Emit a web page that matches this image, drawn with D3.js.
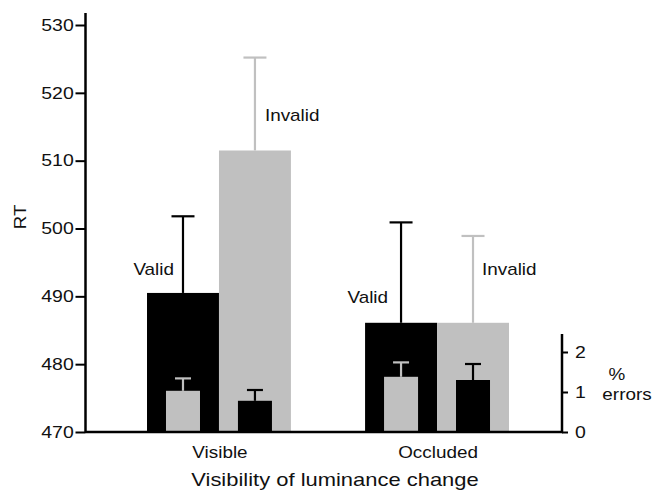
<!DOCTYPE html>
<html>
<head>
<meta charset="utf-8">
<script src="https://cdn.jsdelivr.net/npm/d3@7"></script>
<style>
  html, body { margin: 0; padding: 0; background: #fff; }
  svg { display: block; }
  text { font-family: "Liberation Sans", Arial, sans-serif; fill: #111; }
</style>
</head>
<body>
<div class="chart"></div>
<script>
    // values
    var categories = ['Visible', 'Occluded'];
    var series = ['Valid', 'Invalid'];

    var rtValid = [490.5, 486.1];
    var rtValidSem = [11.3, 14.8];
    var rtInvalid = [511.5, 486.1];
    var rtInvalidSem = [13.7, 12.8];

    var errValid = [1.03, 1.38];
    var errValidSem = [0.31, 0.36];
    var errInvalid = [0.78, 1.30];
    var errInvalidSem = [0.27, 0.40];

    var rtTicks = [470, 480, 490, 500, 510, 520, 530];
    var errTicks = [0, 1, 2];

    var width = 652, height = 490;
    var black = '#000', grey = '#c0c0c0';
    var stretch = 1.18;

    var svg = d3.select('.chart').append('svg')
        .attr('width', width)
        .attr('height', height);

    var x = d3.scaleBand().domain(categories).range([103.4, 552.6])
        .paddingInner(0.34).paddingOuter(0.2);
    var xs = d3.scaleBand().domain(series).range([0, x.bandwidth()]);
    var y = d3.scaleLinear().domain([470, 530]).range([432, 25]);
    var yErr = d3.scaleLinear().domain([0, 2]).range([432, 352]);

    var axisLeftX = 85.5, axisRightX = 562;

    // rows: one per category & series
    var rows = [];
    categories.forEach(function(c, i){
        rows.push({cat: c, s: 'Valid', rt: rtValid[i], rtSem: rtValidSem[i], err: errValid[i], errSem: errValidSem[i]});
        rows.push({cat: c, s: 'Invalid', rt: rtInvalid[i], rtSem: rtInvalidSem[i], err: errInvalid[i], errSem: errInvalidSem[i]});
    });
    function cx(d){ return x(d.cat) + xs(d.s) + xs.bandwidth() / 2; }
    function bigColour(d){ return d.s === 'Valid' ? black : grey; }
    // error-rate bars use the opposite shade so they show inside the RT bars
    function smallColour(d){ return d.s === 'Valid' ? grey : black; }

    // big RT bars
    svg.append('g').selectAll('rect').data(rows).enter().append('rect')
        .attr('x', function(d){ return x(d.cat) + xs(d.s); })
        .attr('y', function(d){ return y(d.rt); })
        .attr('width', xs.bandwidth())
        .attr('height', function(d){ return y(470) - y(d.rt); })
        .attr('fill', bigColour);

    // RT error bars (upper only)
    var eb = svg.append('g').selectAll('g').data(rows).enter().append('g')
        .attr('stroke', bigColour)
        .attr('stroke-width', 2.2);
    eb.append('line')
        .attr('x1', cx).attr('x2', cx)
        .attr('y1', function(d){ return y(d.rt); })
        .attr('y2', function(d){ return y(d.rt + d.rtSem); });
    eb.append('line')
        .attr('x1', function(d){ return cx(d) - 11.5; })
        .attr('x2', function(d){ return cx(d) + 11.5; })
        .attr('y1', function(d){ return y(d.rt + d.rtSem); })
        .attr('y2', function(d){ return y(d.rt + d.rtSem); });

    // small error-rate bars
    var smallW = 34;
    svg.append('g').selectAll('rect').data(rows).enter().append('rect')
        .attr('x', function(d){ return cx(d) - smallW / 2; })
        .attr('y', function(d){ return yErr(d.err); })
        .attr('width', smallW)
        .attr('height', function(d){ return yErr(0) - yErr(d.err); })
        .attr('fill', smallColour);

    var seb = svg.append('g').selectAll('g').data(rows).enter().append('g')
        .attr('stroke', smallColour)
        .attr('stroke-width', 2.2);
    seb.append('line')
        .attr('x1', cx).attr('x2', cx)
        .attr('y1', function(d){ return yErr(d.err); })
        .attr('y2', function(d){ return yErr(d.err + d.errSem); });
    seb.append('line')
        .attr('x1', function(d){ return cx(d) - 8; })
        .attr('x2', function(d){ return cx(d) + 8; })
        .attr('y1', function(d){ return yErr(d.err + d.errSem); })
        .attr('y2', function(d){ return yErr(d.err + d.errSem); });

    // axes
    var gl = svg.append('g')
        .attr('transform', 'translate(' + axisLeftX + ',0)')
        .call(d3.axisLeft(y).tickValues(rtTicks).tickSize(10).tickPadding(0));
    gl.select('.domain').remove();
    gl.selectAll('.tick line').attr('stroke', black).attr('stroke-width', 2);
    gl.selectAll('.tick text')
        .attr('font-size', 16.5)
        .attr('transform', 'scale(' + stretch + ',1)')
        .attr('fill', '#111');

    var gr = svg.append('g')
        .attr('transform', 'translate(' + axisRightX + ',0)')
        .call(d3.axisRight(yErr).tickValues(errTicks).tickSize(6).tickPadding(5)
            .tickFormat(d3.format('d')));
    gr.select('.domain').remove();
    gr.selectAll('.tick line').attr('stroke', black).attr('stroke-width', 2);
    gr.selectAll('.tick text')
        .attr('font-size', 16.5)
        .attr('transform', 'scale(' + stretch + ',1)')
        .attr('fill', '#111');

    svg.append('line')
        .attr('x1', axisLeftX).attr('x2', axisLeftX)
        .attr('y1', y(470) + 1).attr('y2', 13)
        .attr('stroke', black).attr('stroke-width', 2.5);
    svg.append('line')
        .attr('x1', axisRightX).attr('x2', axisRightX)
        .attr('y1', yErr(0) + 1).attr('y2', yErr(2.45))
        .attr('stroke', black).attr('stroke-width', 2.5);
    svg.append('line')
        .attr('x1', axisLeftX).attr('x2', axisRightX + 1)
        .attr('y1', y(470)).attr('y2', y(470))
        .attr('stroke', black).attr('stroke-width', 2.5);

    // text helper, glyphs in the figure are a bit wide
    function label(txt, px, py, size, anchor, sx){
        return svg.append('text')
            .attr('transform', 'translate(' + px + ',' + py + ') scale(' + (sx || stretch) + ',1)')
            .attr('text-anchor', anchor || 'middle')
            .attr('font-size', size)
            .text(txt);
    }

    categories.forEach(function(c){
        label(c, x(c) + x.bandwidth() / 2 + 1, 458, 16);
    });
    label('Visibility of luminance change', 335, 486, 18, 'middle', 1.22);

    svg.append('text')
        .attr('transform', 'translate(26,217) rotate(-90) scale(1.1,1)')
        .attr('text-anchor', 'middle')
        .attr('font-size', 17)
        .text('RT');

    label('%', 617, 380, 16);
    label('errors', 627, 400, 16);

    // series annotations next to the error bars
    label('Valid', cx(rows[0]) - 9, 275, 16, 'end');
    label('Invalid', cx(rows[1]) + 10, 121, 16, 'start');
    label('Valid', cx(rows[2]) - 13, 303, 16, 'end');
    label('Invalid', cx(rows[3]) + 9, 275, 16, 'start');
</script>
</body>
</html>
